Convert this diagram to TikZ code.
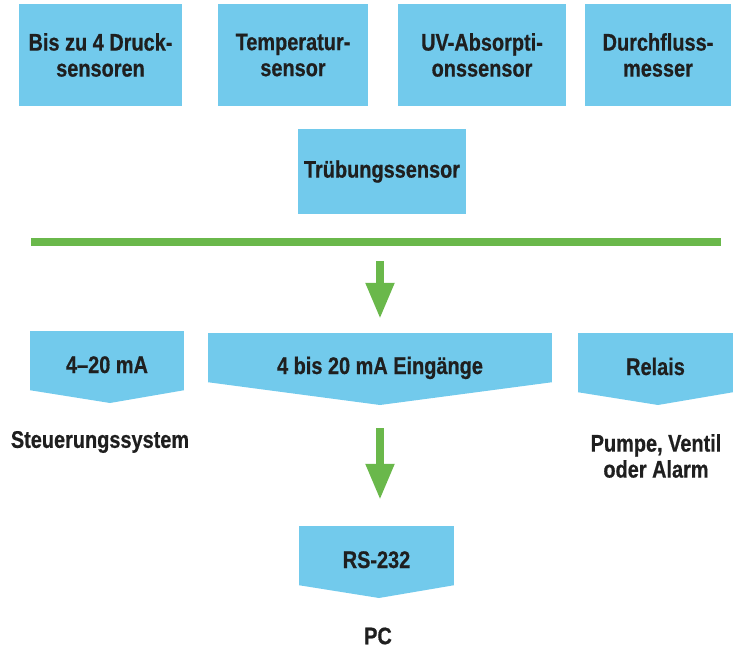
\documentclass[tikz,border=0pt]{standalone}
\usepackage{fontspec}
\setmainfont[FakeStretch=0.83,BoldFeatures={FakeBold=0.6}]{Liberation Sans}
\usetikzlibrary{positioning,calc,arrows.meta}
\definecolor{panelblue}{RGB}{114,202,236}
\definecolor{busgreen}{RGB}{106,184,75}
\tikzset{
  lbl/.style={font=\bfseries\fontsize{24}{26}\selectfont,align=center,text=black!88},
  sensorbox/.style={lbl,fill=panelblue,inner sep=0pt},
  outbox/.style={lbl,fill=panelblue,inner sep=0pt,minimum height=59pt,text height=25pt,text depth=0pt},
  flowarrow/.style={busgreen,line width=8pt,-{Triangle[width=27pt,length=36pt]}}
}
\begin{document}
\begin{tikzpicture}[x=1pt,y=-1pt]
\useasboundingbox (0,0) rectangle (740,650);
% sensors on top
\node[sensorbox,minimum width=163pt,minimum height=102pt] (druck) at (100.5,55) {Bis zu 4 Druck-\\sensoren};
\node[sensorbox,minimum width=150pt,minimum height=102pt] (temp) at (293,55) {Temperatur-\\sensor};
\node[sensorbox,minimum width=168pt,minimum height=102pt] (uv) at (482,55) {UV-Absorpti-\\onssensor};
\node[sensorbox,minimum width=146pt,minimum height=102pt] (durch) at (658,55) {Durchfluss-\\messer};
\node[sensorbox,minimum width=168pt,minimum height=85pt] (trueb) at (382,171.5) {Trübungssensor};
% green bus
\node[fill=busgreen,inner sep=0pt,minimum width=690pt,minimum height=8pt] (bus) at (376,242) {};
% outputs (box + pointed bottom)
\node[outbox,minimum width=154pt] (ma) at (107,360.5) {4–20 mA};
\node[outbox,minimum width=344pt,minimum height=49pt,text height=33pt] (eingang) at (380,357.5) {4 bis 20 mA Eingänge};
\node[outbox,minimum width=155pt] (relais) at (655.5,362.5) {Relais};
\node[outbox,minimum width=155pt] (rs) at (376.5,555.5) {RS-232};
\foreach \n/\px/\py in {ma/110/403,eingang/380/405,relais/658/405,rs/379/598}
  \fill[panelblue] (\n.south west) -- (\px,\py) -- (\n.south east) -- cycle;
% targets
\node[lbl] (steuer) at (100,442) {Steuerungssystem};
\node[lbl] (pumpe) at (656,456) {Pumpe, Ventil\\oder Alarm};
\node[lbl] (pc) at (378,636) {PC};
% arrows
\draw[flowarrow,shorten <=15pt,shorten >=14pt] (bus.south -| eingang.north) -- (eingang.north);
\draw[flowarrow,shorten <=46pt,shorten >=26pt] (eingang.south) -- (eingang.south |- rs.north);
\end{tikzpicture}
\end{document}
